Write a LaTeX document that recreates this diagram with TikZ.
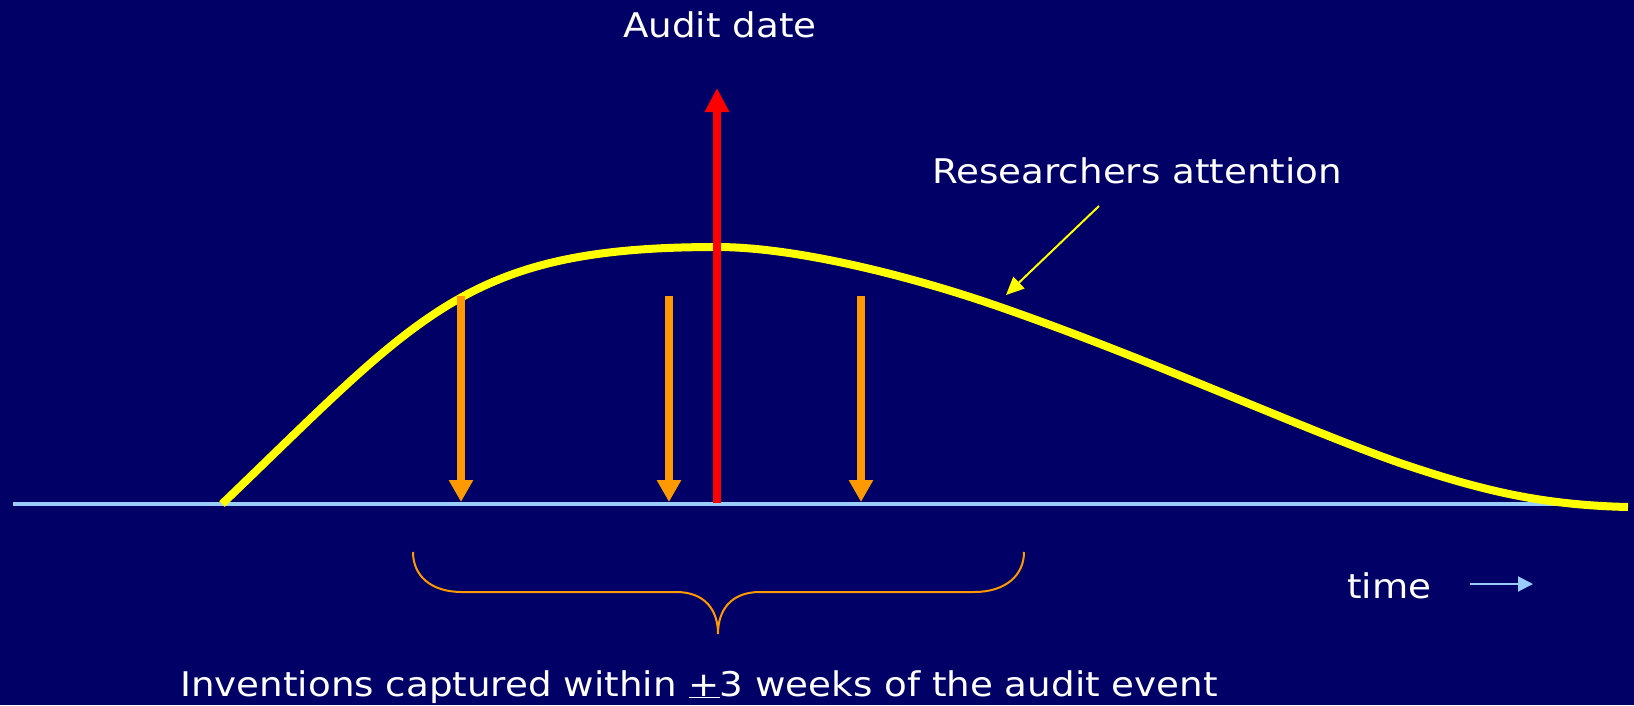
\documentclass[tikz,border=0pt]{standalone}
\usepackage{fontspec}
\setmainfont[FakeStretch=1.095]{DejaVu Sans}
\usetikzlibrary{arrows.meta}
\definecolor{bgblue}{RGB}{0,0,102}
\definecolor{axisblue}{RGB}{153,204,255}
\definecolor{attnyellow}{RGB}{255,255,0}
\definecolor{capturorange}{RGB}{255,153,0}
\definecolor{auditred}{RGB}{255,0,0}
\tikzset{
  lbl/.style={text=white, inner sep=0pt, anchor=base west, font=\fontsize{34}{40}\selectfont},
  axisline/.style={draw=axisblue, line width=4pt},
  attncurve/.style={draw=attnyellow, line width=8pt},
  downarrow/.style={draw=capturorange, line width=8pt, -{Triangle[length=22pt,width=23pt]}, capturorange},
  auditarrow/.style={draw=auditred, line width=8pt, -{Triangle[length=24pt,width=23pt]}, auditred},
  pointer/.style={draw=attnyellow, line width=2pt, -{Triangle[length=18pt,width=16pt]}},
  timearrow/.style={draw=axisblue, line width=2pt, -{Triangle[length=15pt,width=15pt]}},
  brace/.style={draw=capturorange, line width=2pt}
}
\begin{document}
\begin{tikzpicture}[x=1pt,y=-1pt]
  % background
  \fill[bgblue] (0,0) rectangle (1634,705);
  \useasboundingbox (0,0) rectangle (1634,705);

  % time axis
  \coordinate (axL) at (13,504);
  \coordinate (axR) at (1565,504);
  \draw[axisline] (axL) -- (axR);

  % attention curve: rise, peak at the audit date, long decay
  \coordinate (cstart) at (222,504);
  \coordinate (cpeak) at (717,247);
  \coordinate (cmid) at (1000,307);
  \coordinate (clow) at (1400,463);
  \coordinate (cend) at (1628,507);
  \draw[attncurve] (cstart) .. controls (422,312) and (467,247) .. (cpeak)
    .. controls (800,247) and (920,279) .. (cmid)
    .. controls (1150,359) and (1300,428) .. (clow)
    .. controls (1480,490) and (1540,505) .. (cend);

  % capture arrows
  \coordinate (o1t) at (461,296); \coordinate (o1b) at (461,502);
  \coordinate (o2t) at (669,296); \coordinate (o2b) at (669,502);
  \coordinate (o3t) at (861,296); \coordinate (o3b) at (861,502);
  \draw[downarrow] (o1t) -- (o1b);
  \draw[downarrow] (o2t) -- (o2b);
  \draw[downarrow] (o3t) -- (o3b);

  % audit date arrow
  \coordinate (rb) at (717,503);
  \coordinate (rt) at (717,88);
  \draw[auditarrow] (rb) -- (rt);

  % labels
  \node[lbl] (audit) at (623,37) {Audit date};
  \node[lbl] (attn) at (932,183) {Researchers attention};
  \node[lbl] (timelbl) at (1347,598) {time};
  \node[lbl] (capt) at (180,696) {Inventions captured within \underline{+}3 weeks of the audit event};

  % pointer to the curve
  \coordinate (pstart) at (1099,206);
  \coordinate (ptip) at (1006,295);
  \draw[pointer] (pstart) -- (ptip);

  % time direction arrow
  \coordinate (ta) at (1470,584);
  \coordinate (tb) at (1533,584);
  \draw[timearrow] (ta) -- (tb);

  % brace spanning the capture window
  \draw[brace] (413,552) .. controls (413,575) and (430,592) .. (462,592)
    -- (676,592) .. controls (705,592) and (718,610) .. (718,634)
    .. controls (718,610) and (731,592) .. (760,592)
    -- (974,592) .. controls (1006,592) and (1024,575) .. (1024,552);
\end{tikzpicture}
\end{document}
